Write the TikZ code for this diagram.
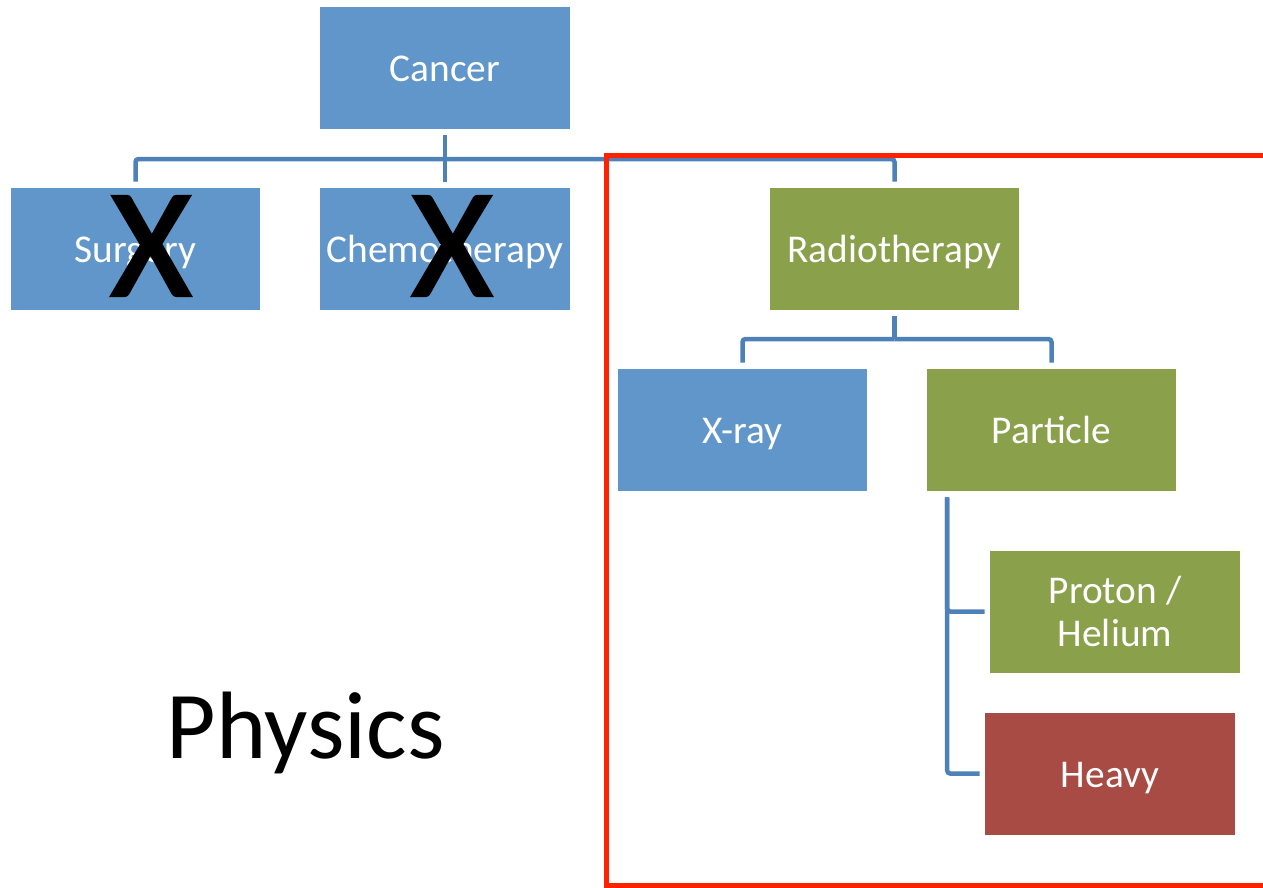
\documentclass[tikz,border=0pt]{standalone}
\usepackage{fontspec}
\setmainfont{Carlito}
\newfontfamily\crossfont{Carlito}[FakeBold=2]
\usetikzlibrary{positioning}

\definecolor{boxblue}{RGB}{96,150,201}
\definecolor{boxgreen}{RGB}{138,160,75}
\definecolor{boxred}{RGB}{168,75,69}
\definecolor{linkblue}{RGB}{79,129,185}
\definecolor{framered}{RGB}{255,34,0}

\tikzset{
  treebox/.style={rectangle, inner sep=0pt, minimum width=5cm, minimum height=2.44cm,
    text=white, align=center, font=\fontsize{22.4}{24.5}\selectfont},
  oneline/.style={text height=15.6pt, text depth=0pt},
  bluebox/.style={treebox, fill=boxblue},
  greenbox/.style={treebox, fill=boxgreen},
  redbox/.style={treebox, fill=boxred},
  link/.style={draw=linkblue, line width=0.9mm, rounded corners=0.6mm},
  crossmark/.style={font=\crossfont\fontsize{88}{88}\selectfont, text=black, inner sep=0pt}
}

\begin{document}
\begin{tikzpicture}[x=0.02cm, y=-0.02cm]
        \clip (0,0) rectangle (1263,887);

        % boxes
        \node[bluebox, oneline] (cancer) at (445,68) {Cancer};
        \node[bluebox, oneline] (surgery) at (135.5,249) {Surgery};
        \node[bluebox, oneline] (chemo) at (445,249) {Chemotherapy};
        \node[greenbox, oneline] (radio) at (894.5,249) {Radiotherapy};
        \node[bluebox, oneline] (xray) at (742.5,430) {X-ray};
        \node[greenbox, oneline] (particle) at (1051.5,430) {Particle};
        \node[greenbox] (proton) at (1115,611.5) {Proton /\\Helium};
        \node[redbox, oneline] (heavy) at (1110,773.5) {Heavy};

        % crosses
        \node[crossmark] (xsurgery) at (151,246) {X};
        \node[crossmark] (xchemo) at (452,246) {X};

        \node[font=\fontsize{54.5}{54.5}\selectfont, anchor=base] (physics) at (305.5,758) {Physics};

        % connectors
        \coordinate (bus) at (445,159);
        \coordinate (radiobus) at (894.5,339);
        \draw[link, shorten <=1.2mm] (cancer.south) -- (bus);
        \draw[link, shorten >=1.2mm] (bus) -| (surgery.north);
        \draw[link, shorten >=1.2mm] (bus) -| (chemo.north);
        \draw[link, shorten >=1.2mm] (bus) -| (radio.north);
        \draw[link, shorten <=1.2mm] (radio.south) -- (radiobus);
        \draw[link, shorten >=1.2mm] (radiobus) -| (xray.north);
        \draw[link, shorten >=1.2mm] (radiobus) -| (particle.north);
        \draw[link, shorten <=1.2mm, shorten >=1mm] ([xshift=4.2mm]particle.south west) |- (proton.west);
        \draw[link, shorten <=1.2mm, shorten >=1mm] ([xshift=4.2mm]particle.south west) |- (heavy.west);

        % frame
        \draw[draw=framered, line width=1mm] (606,155) rectangle (1300,885);
    \end{tikzpicture}
\end{document}
